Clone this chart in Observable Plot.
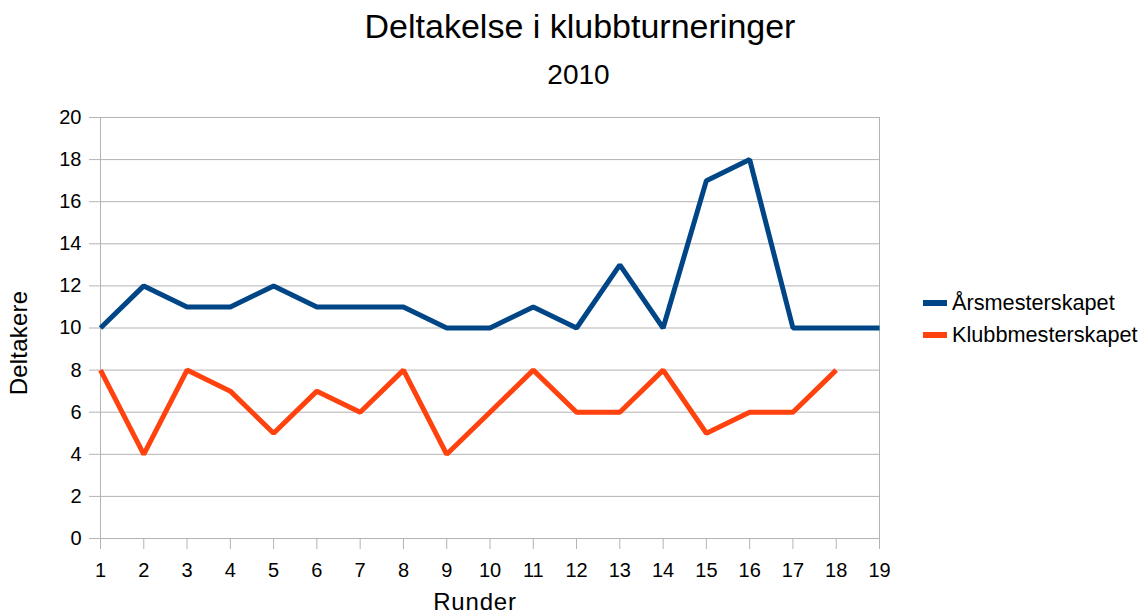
<!DOCTYPE html>
<html>
<head>
<meta charset="utf-8">
<script src="https://cdn.jsdelivr.net/npm/d3@7"></script>
<script src="https://cdn.jsdelivr.net/npm/@observablehq/plot@0.6"></script>
<style>
  html, body { margin: 0; padding: 0; background: #fff; }
  body { width: 1142px; height: 615px; overflow: hidden; position: relative; font-family: "Liberation Sans", Arial, sans-serif; color: #000; }
  .abs { position: absolute; white-space: nowrap; line-height: 1; }
  #title { left: 0; width: 1160px; text-align: center; top: 9px; font-size: 34px; }
  #subtitle { left: 0; width: 1157px; text-align: center; top: 61px; font-size: 28px; }
  #ylabel { left: 19px; top: 343px; font-size: 24px; letter-spacing: 0.2px; transform: translate(-50%, -50%) rotate(-90deg); }
  #xlabel { left: 475px; top: 590px; font-size: 24px; letter-spacing: 0.8px; transform: translateX(-50%); }
  .leg { left: 923px; font-size: 21.7px; display: flex; align-items: center; line-height: 25px; }
  .sw { width: 24px; height: 6px; margin-right: 5px; }
  #chart { position: absolute; left: 0; top: 0; }
</style>
</head>
<body>
<div id="chart"></div>
<div class="abs" id="title">Deltakelse i klubbturneringer</div>
<div class="abs" id="subtitle">2010</div>
<div class="abs" id="ylabel">Deltakere</div>
<div class="abs" id="xlabel">Runder</div>
<div id="legend"></div>
<script>
const runder = [1,2,3,4,5,6,7,8,9,10,11,12,13,14,15,16,17,18,19];
const arsmesterskapet = [10,12,11,11,12,11,11,11,10,10,11,10,13,10,17,18,10,10,10];
const klubbmesterskapet = [8,4,8,7,5,7,6,8,4,6,8,6,6,8,5,6,6,8];
const seriesNames = ["Årsmesterskapet", "Klubbmesterskapet"];
const seriesColors = ["#004586", "#ff420e"];
const yTicks = [0,2,4,6,8,10,12,14,16,18,20];

const data = [];
arsmesterskapet.forEach((v, i) => data.push({runde: runder[i], value: v, series: seriesNames[0]}));
klubbmesterskapet.forEach((v, i) => data.push({runde: runder[i], value: v, series: seriesNames[1]}));

const chart = Plot.plot({
  width: 1142,
  height: 615,
  marginLeft: 100,
  marginRight: 263,
  marginTop: 117,
  marginBottom: 77,
  style: { fontFamily: "Liberation Sans, Arial, sans-serif", fontSize: "20px", background: "transparent", color: "#000" },
  x: { domain: [1, 19], ticks: runder, tickFormat: d => d, label: null },
  y: { domain: [0, 20], ticks: yTicks, label: null },
  color: { domain: seriesNames, range: seriesColors },
  marks: [
    Plot.gridY(yTicks, { stroke: "#b3b3b3", strokeOpacity: 1, strokeWidth: 1 }),
    Plot.frame({ stroke: "#b3b3b3", strokeWidth: 1 }),
    Plot.axisY(yTicks, { tickSize: 11, tickPadding: 8, stroke: "#b3b3b3", fill: "#000", label: null, fontSize: 20 }),
    Plot.axisX(runder, { tickSize: 11, tickPadding: 13, stroke: "#b3b3b3", fill: "#000", label: null, fontSize: 20 }),
    Plot.line(data, { x: "runde", y: "value", z: "series", stroke: "series", strokeWidth: 5, strokeLinejoin: "miter", strokeLinecap: "butt" })
  ]
});
document.getElementById("chart").appendChild(chart);

const legend = document.getElementById("legend");
seriesNames.forEach((name, i) => {
  const d = document.createElement("div");
  d.className = "abs leg";
  d.style.top = (290 + i * 32) + "px";
  d.innerHTML = `<div class="sw" style="background:${seriesColors[i]}"></div><span>${name}</span>`;
  legend.appendChild(d);
});
</script>
</body>
</html>
